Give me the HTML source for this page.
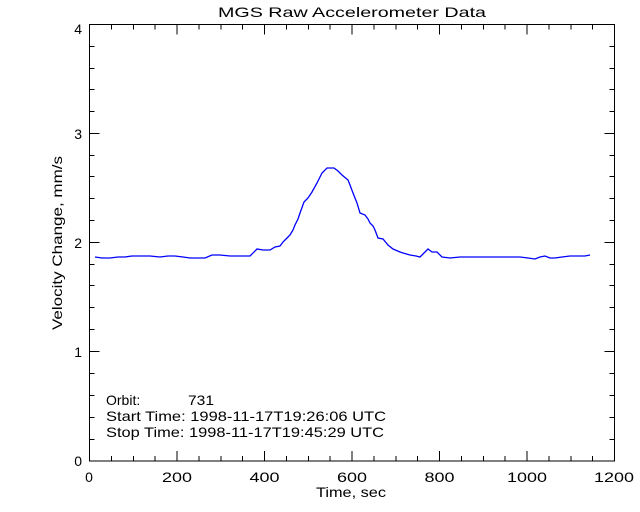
<!DOCTYPE html>
<html><head><style>
html,body{margin:0;padding:0;background:#fff;}
svg{display:block;}
text{font-family:"Liberation Sans","DejaVu Sans",sans-serif;fill:#000;}
</style></head><body>
<svg width="640" height="512" viewBox="0 0 640 512" xmlns="http://www.w3.org/2000/svg">
<rect x="0" y="0" width="640" height="512" fill="#fff"/>
<g stroke="#000" stroke-width="1" fill="none" shape-rendering="crispEdges">
<rect x="89.5" y="24.5" width="525" height="436.5"/>
<path d="
M89.5 461v-10 M177 461v-10 M264.5 461v-10 M352 461v-10 M439.5 461v-10 M527 461v-10
M89.5 24.5v10 M177 24.5v10 M264.5 24.5v10 M352 24.5v10 M439.5 24.5v10 M527 24.5v10
M111.4 461v-5 M133.3 461v-5 M155.1 461v-5 M198.9 461v-5 M220.8 461v-5 M242.6 461v-5 M286.4 461v-5 M308.3 461v-5 M330.1 461v-5 M373.9 461v-5 M395.8 461v-5 M417.6 461v-5 M461.4 461v-5 M483.3 461v-5 M505.1 461v-5 M548.9 461v-5 M570.8 461v-5 M592.6 461v-5
M111.4 24.5v5 M133.3 24.5v5 M155.1 24.5v5 M198.9 24.5v5 M220.8 24.5v5 M242.6 24.5v5 M286.4 24.5v5 M308.3 24.5v5 M330.1 24.5v5 M373.9 24.5v5 M395.8 24.5v5 M417.6 24.5v5 M461.4 24.5v5 M483.3 24.5v5 M505.1 24.5v5 M548.9 24.5v5 M570.8 24.5v5 M592.6 24.5v5
M89.5 351.5h10 M89.5 242.5h10 M89.5 133.5h10
M614.5 351.5h-10 M614.5 242.5h-10 M614.5 133.5h-10
M89.5 439.5h5 M89.5 417.5h5 M89.5 395.5h5 M89.5 373.5h5
M89.5 329.5h5 M89.5 307.5h5 M89.5 285.5h5 M89.5 264.5h5
M89.5 220.5h5 M89.5 198.5h5 M89.5 176.5h5 M89.5 155.5h5
M89.5 111.5h5 M89.5 89.5h5 M89.5 68.5h5 M89.5 46.5h5
M614.5 439.5h-5 M614.5 417.5h-5 M614.5 395.5h-5 M614.5 373.5h-5
M614.5 329.5h-5 M614.5 307.5h-5 M614.5 285.5h-5 M614.5 264.5h-5
M614.5 220.5h-5 M614.5 198.5h-5 M614.5 176.5h-5 M614.5 155.5h-5
M614.5 111.5h-5 M614.5 89.5h-5 M614.5 68.5h-5 M614.5 46.5h-5
"/>
</g>
<polyline fill="none" stroke="#0000ff" stroke-width="1.3" points="
95,257 102,258 110,258 118,257 125,257 132,256 140,256 150,256 160,257 168,256 175,256 183,257 190,258 198,258 205,258 212,255 220,255 230,256 240,256 250,256 257,249 263,250 270,250 275,247 280,246 283,242 287,238 290,235 293,230 295,225 298,219 300,213 304,202 308,198 312,192 317,183 322,173 327,168 334,168 338,171 342,175 348,180 350,185 353,193 357,203 360,213 365,215 368,219 370,223 373,226 375,230 378,238 383,239 388,245 393,249 400,252 403,253 410,255 416,256 420,257 425,252 428,249 432,252 437,252 442,257 450,258 460,257 470,257 480,257 490,257 500,257 510,257 520,257 528,258 535,259 540,257 545,256 550,258 555,258 562,257 570,256 578,256 585,256 590,255"/>
<g font-size="14">
<text x="218" y="17" textLength="268" lengthAdjust="spacingAndGlyphs">MGS Raw Accelerometer Data</text>
<text x="82" y="466" text-anchor="end">0</text>
<text x="82" y="357" text-anchor="end">1</text>
<text x="82" y="248" text-anchor="end">2</text>
<text x="82" y="139" text-anchor="end">3</text>
<text x="82" y="34" text-anchor="end">4</text>
<text x="89" y="482" text-anchor="middle">0</text>
<text x="162" y="482" textLength="30" lengthAdjust="spacingAndGlyphs">200</text>
<text x="249.5" y="482" textLength="30" lengthAdjust="spacingAndGlyphs">400</text>
<text x="337" y="482" textLength="30" lengthAdjust="spacingAndGlyphs">600</text>
<text x="424.5" y="482" textLength="30" lengthAdjust="spacingAndGlyphs">800</text>
<text x="507" y="482" textLength="40" lengthAdjust="spacingAndGlyphs">1000</text>
<text x="594" y="482" textLength="40" lengthAdjust="spacingAndGlyphs">1200</text>
<text x="316" y="497" textLength="70" lengthAdjust="spacingAndGlyphs">Time, sec</text>
<text transform="translate(62,330) rotate(-90)" textLength="174" lengthAdjust="spacingAndGlyphs">Velocity Change, mm/s</text>
<text x="106" y="405">Orbit:</text>
<text x="188" y="405" textLength="26" lengthAdjust="spacingAndGlyphs">731</text>
<text x="106" y="421" textLength="280" lengthAdjust="spacingAndGlyphs">Start Time: 1998-11-17T19:26:06 UTC</text>
<text x="106" y="437" textLength="278" lengthAdjust="spacingAndGlyphs">Stop Time: 1998-11-17T19:45:29 UTC</text>
</g>
</svg>
</body></html>
